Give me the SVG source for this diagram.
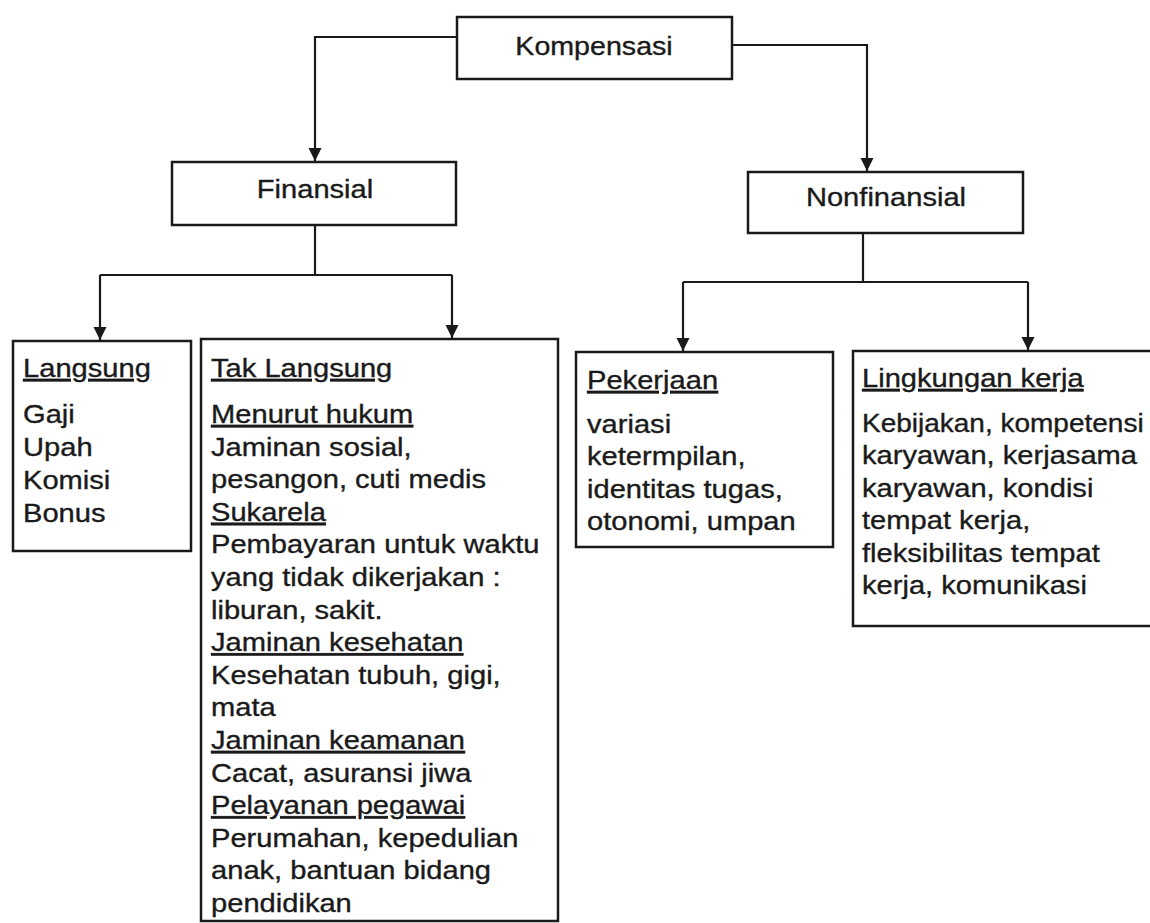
<svg xmlns="http://www.w3.org/2000/svg" width="1150" height="923" viewBox="0 0 1150 923">
<defs>
<style>
.box{fill:#fff;stroke:#1a1a1a;stroke-width:2.5}
.ln{fill:none;stroke:#1a1a1a;stroke-width:2.2}
text{font-family:"Liberation Sans",Arial,sans-serif;font-size:26px;fill:#1a1a1a;stroke:#1a1a1a;stroke-width:0.35}
.c{text-anchor:middle}
.u{text-decoration:underline}
.s{font-size:25px}
</style>
<marker id="ah" viewBox="0 0 10 10" refX="10" refY="5" markerWidth="6" markerHeight="6" orient="auto" markerUnits="strokeWidth">
<path d="M0,0 L10,5 L0,10 z" fill="#1a1a1a"/>
</marker>
</defs>
<rect width="1150" height="923" fill="#fff"/>
<g id="connectors">
<path class="ln" d="M457,37 H315 V161" marker-end="url(#ah)"/>
<path class="ln" d="M732,45 H867 V171" marker-end="url(#ah)"/>
<path class="ln" d="M315,225 V275"/>
<path class="ln" d="M100,275 H452"/>
<path class="ln" d="M100,275 V340" marker-end="url(#ah)"/>
<path class="ln" d="M452,275 V338" marker-end="url(#ah)"/>
<path class="ln" d="M863,233 V282"/>
<path class="ln" d="M683,282 H1028"/>
<path class="ln" d="M683,282 V351" marker-end="url(#ah)"/>
<path class="ln" d="M1028,282 V350" marker-end="url(#ah)"/>
</g>
<g id="kompensasi">
<rect class="box" x="457" y="17" width="275" height="62"/>
<g transform="translate(594,0) scale(1.1,1)"><text class="c" x="0" y="55">Kompensasi</text></g>
</g>
<g id="finansial">
<rect class="box" x="172" y="162" width="284" height="63"/>
<g transform="translate(315,0) scale(1.12,1)"><text class="c" x="0" y="198">Finansial</text></g>
</g>
<g id="nonfinansial">
<rect class="box" x="748" y="172" width="275" height="61"/>
<g transform="translate(886,0) scale(1.12,1)"><text class="c" x="0" y="206">Nonfinansial</text></g>
</g>
<g id="langsung">
<rect class="box" x="13" y="341" width="178" height="210"/>
<g transform="translate(23,0) scale(1.12,1)">
<text class="u" x="0" y="377">Langsung</text>
<text x="0" y="423">Gaji</text>
<text x="0" y="456">Upah</text>
<text x="0" y="489">Komisi</text>
<text x="0" y="522">Bonus</text>
</g>
</g>
<g id="tak-langsung">
<rect class="box" x="201" y="339" width="357" height="582"/>
<g transform="translate(211,0) scale(1.12,1)">
<text class="u" x="0" y="377">Tak Langsung</text>
<text class="u" x="0" y="423">Menurut hukum</text>
<text x="0" y="455.6">Jaminan sosial,</text>
<text x="0" y="488.2">pesangon, cuti medis</text>
<text class="u" x="0" y="520.8">Sukarela</text>
<text x="0" y="553.4">Pembayaran untuk waktu</text>
<text x="0" y="586">yang tidak dikerjakan :</text>
<text x="0" y="618.6">liburan, sakit.</text>
<text class="u" x="0" y="651.2">Jaminan kesehatan</text>
<text x="0" y="683.8">Kesehatan tubuh, gigi,</text>
<text x="0" y="716.4">mata</text>
<text class="u" x="0" y="749">Jaminan keamanan</text>
<text x="0" y="781.6">Cacat, asuransi jiwa</text>
<text class="u" x="0" y="814.2">Pelayanan pegawai</text>
<text x="0" y="846.8">Perumahan, kepedulian</text>
<text x="0" y="879.4">anak, bantuan bidang</text>
<text x="0" y="912">pendidikan</text>
</g>
</g>
<g id="pekerjaan">
<rect class="box" x="576" y="352" width="257" height="195"/>
<g transform="translate(587,0) scale(1.12,1)">
<text class="u" x="0" y="389">Pekerjaan</text>
<text x="0" y="433">variasi</text>
<text x="0" y="465.5">ketermpilan,</text>
<text x="0" y="498">identitas tugas,</text>
<text x="0" y="530.5">otonomi, umpan</text>
</g>
</g>
<g id="lingkungan-kerja">
<rect class="box" x="853" y="351" width="302" height="275"/>
<g transform="translate(862,0) scale(1.12,1)">
<text class="u" x="0" y="387">Lingkungan kerja</text>
<text class="s" x="0" y="432">Kebijakan, kompetensi</text>
<text x="0" y="464.5">karyawan, kerjasama</text>
<text x="0" y="497">karyawan, kondisi</text>
<text x="0" y="529.5">tempat kerja,</text>
<text x="0" y="562">fleksibilitas tempat</text>
<text x="0" y="594.5">kerja, komunikasi</text>
</g>
</g>
</svg>
